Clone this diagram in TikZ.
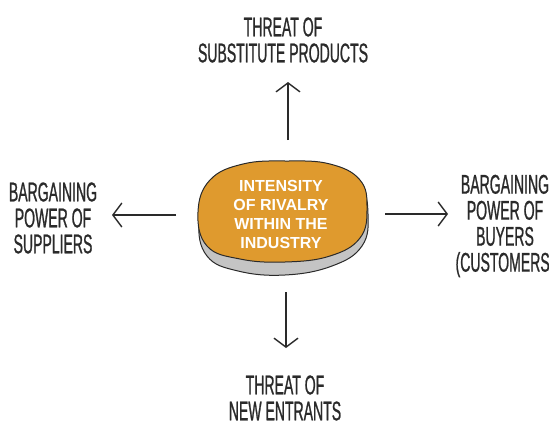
\documentclass[tikz,border=0pt]{standalone}
\usepackage{fontspec}
\usetikzlibrary{arrows.meta}
\newfontfamily\handfont[FakeStretch=0.52,FakeBold=0.8]{Liberation Sans}
\newfontfamily\boldsans{Liberation Sans}
\definecolor{ink}{HTML}{2A2A2A}
\definecolor{amber}{HTML}{DF9A2E}
\definecolor{rim}{HTML}{C4C4C4}
\tikzset{
  force/.style={font=\handfont\fontsize{27}{26}\selectfont, text=ink, align=center, inner sep=0pt},
  push/.style={draw=ink, line width=1.5pt, -{Straight Barb[length=9pt,width=24pt,line width=1.4pt]}},
}
\begin{document}
\begin{tikzpicture}[x=1pt,y=-1pt]
  \useasboundingbox[fill=white] (0,0) rectangle (549,421);

  % the disc: grey rim first, then the orange top face
  \draw[ink, line width=1pt, fill=rim]
    plot[smooth cycle, tension=0.7] coordinates {
      (199,222) (211,188) (244,169) (288,166) (330,169) (360,186) (368,214)
      (362,246) (332,266) (285,275) (238,271) (207,256)};
  \draw[ink, line width=1pt, fill=amber]
    plot[smooth cycle, tension=0.7] coordinates {
      (198,212) (210,180) (243,164) (287,161) (330,164) (360,180) (367,208)
      (360,238) (330,256) (285,262) (240,259) (207,246)};
  \node[font=\boldsans\bfseries\fontsize{16}{19}\selectfont, text=white, align=center]
    (rivalry) at (281,214) {INTENSITY\\OF RIVALRY\\WITHIN THE\\INDUSTRY};

  % the four outer forces
  \node[force] (substitutes) at (283,40) {THREAT OF\\SUBSTITUTE PRODUCTS};
  \node[force] (entrants) at (285,398) {THREAT OF\\NEW ENTRANTS};
  \node[force] (suppliers) at (53,218) {BARGAINING\\POWER OF\\SUPPLIERS};
  \node[force] (buyers) at (505,226) {BARGAINING\\POWER OF\\BUYERS\\(CUSTOMERS)};

  % arrow ends
  \coordinate (upA) at (288,140);   \coordinate (upB) at (288,82);
  \coordinate (downA) at (286,292); \coordinate (downB) at (286,348);
  \coordinate (leftA) at (176,215); \coordinate (leftB) at (112,215);
  \coordinate (rightA) at (385,214);\coordinate (rightB) at (448,214);

  \draw[push] (upA) -- (upB);
  \draw[push] (downA) -- (downB);
  \draw[push] (leftA) -- (leftB);
  \draw[push] (rightA) -- (rightB);
\end{tikzpicture}
\end{document}
